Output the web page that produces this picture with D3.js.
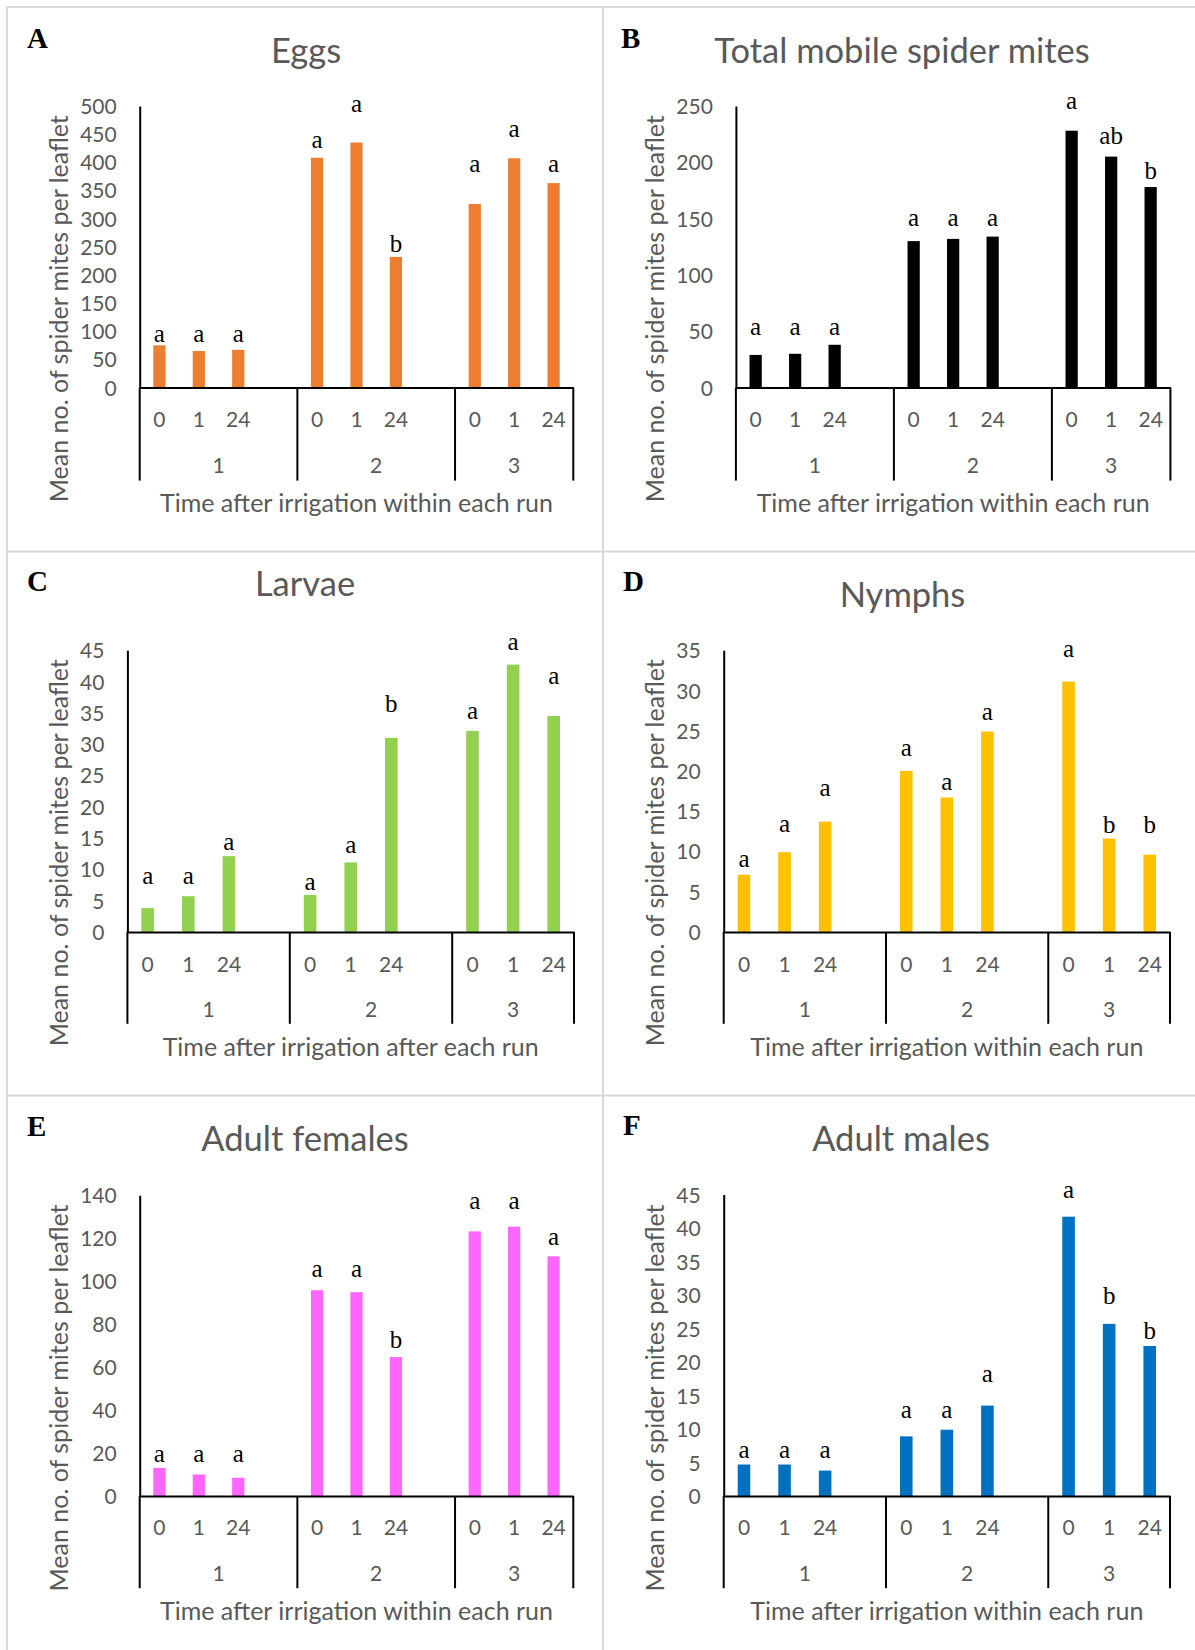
<!DOCTYPE html>
<html><head><meta charset="utf-8">
<script src="https://cdn.jsdelivr.net/npm/d3@7"></script>
<style>body{margin:0;background:#fff} svg{display:block}</style>
</head><body>
<svg id="chart" width="1195" height="1650"></svg>
<script>
// ---------- data ----------
const runs = ["1", "2", "3"];
const times = ["0", "1", "24"];
const panelLetters = ["A", "B", "C", "D", "E", "F"];
const chartTitles = ["Eggs", "Total mobile spider mites", "Larvae", "Nymphs", "Adult females", "Adult males"];
const xTitles = [
  "Time after irrigation within each run",
  "Time after irrigation within each run",
  "Time after irrigation after each run",
  "Time after irrigation within each run",
  "Time after irrigation within each run",
  "Time after irrigation within each run"
];
const yTitle = "Mean no. of spider mites per leaflet";
const yMax = [500, 250, 45, 35, 140, 45];
const yStep = [50, 50, 5, 5, 20, 5];

// values in order run1(0,1,24), run2(0,1,24), run3(0,1,24)
const eggs    = [75, 65, 67, 408, 435, 232, 326, 407, 363];
const mobile  = [29, 30, 38, 130, 132, 134, 228, 205, 178];
const larvae  = [3.8, 5.7, 12.1, 5.9, 11.1, 31.0, 32.1, 42.7, 34.5];
const nymphs  = [7.1, 9.9, 13.7, 20.0, 16.7, 24.9, 31.1, 11.6, 9.6];
const females = [13.1, 10.0, 8.5, 95.8, 94.9, 64.7, 123.2, 125.4, 111.6];
const males   = [4.7, 4.7, 3.8, 8.9, 9.9, 13.5, 41.7, 25.7, 22.4];

// significance letters and the value level at which each letter sits
const eggsSig    = ["a","a","a","a","a","b","a","a","a"];
const eggsSigAt  = [81, 81, 81, 426, 490, 240, 382, 445, 382];
const mobileSig  = ["a","a","a","a","a","a","a","ab","b"];
const mobileSigAt= [46.7, 46.7, 46.7, 143, 143, 143, 247.5, 216.4, 185.2];
const larvaeSig  = ["a","a","a","a","a","b","a","a","a"];
const larvaeSigAt= [7.6, 7.6, 13.1, 6.7, 12.6, 35.2, 34.0, 45.1, 39.6];
const nymphsSig  = ["a","a","a","a","a","a","a","b","b"];
const nymphsSigAt= [8.1, 12.4, 16.9, 21.9, 17.6, 26.3, 34.2, 12.3, 12.3];
const femalesSig = ["a","a","a","a","a","b","a","a","a"];
const femalesSigAt=[15.8, 15.8, 15.8, 101.8, 101.8, 69, 133.4, 133.4, 116.7];
const malesSig   = ["a","a","a","a","a","a","a","b","b"];
const malesSigAt = [5.7, 5.7, 5.7, 11.7, 11.7, 17, 44.5, 28.6, 23.5];

const colors = ["#ED7D31", "#000000", "#92D050", "#FFC000", "#FF66FF", "#0070C0"];

const seriesValues = [eggs, mobile, larvae, nymphs, females, males];
const seriesSig = [eggsSig, mobileSig, larvaeSig, nymphsSig, femalesSig, malesSig];
const seriesSigAt = [eggsSigAt, mobileSigAt, larvaeSigAt, nymphsSigAt, femalesSigAt, malesSigAt];

// ---------- layout ----------
const layout = [
  {left:139.7, right:573.3, top:105.9, zero:387.6, tickY:419.2, groupY:465.9, sepBottom:480.6, xTitleY:503.4, yTitleX:59.3, yTitleY:308.7, titleX:306, titleY:63, letterX:27, letterY:48},
  {left:735.9, right:1170.4, top:105.9, zero:387.6, tickY:419.2, groupY:465.9, sepBottom:480.6, xTitleY:503.4, yTitleX:655, yTitleY:308.7, titleX:902, titleY:63, letterX:621, letterY:48},
  {left:127.4, right:574, top:650.2, zero:931.9, tickY:964.2, groupY:1009.8, sepBottom:1023.8, xTitleY:1046.6, yTitleX:59.3, yTitleY:852.8, titleX:305, titleY:596, letterX:27, letterY:591},
  {left:723.7, right:1170, top:650.2, zero:931.9, tickY:964.2, groupY:1009.8, sepBottom:1023.8, xTitleY:1046.6, yTitleX:655, yTitleY:852.8, titleX:902.5, titleY:607.4, letterX:623, letterY:591},
  {left:139.7, right:573.3, top:1195.3, zero:1496, tickY:1527.4, groupY:1573.9, sepBottom:1588.2, xTitleY:1611.4, yTitleX:59.3, yTitleY:1398, titleX:305, titleY:1151.4, letterX:27, letterY:1136},
  {left:723.7, right:1170, top:1194.6, zero:1496, tickY:1527.4, groupY:1573.9, sepBottom:1588.2, xTitleY:1611.4, yTitleX:655, yTitleY:1398, titleX:901, titleY:1151.4, letterX:623, letterY:1135}
];

const SANS = "Lato, 'Open Sans', sans-serif";
const SERIF = "'Liberation Serif', 'Times New Roman', serif";
const GREY = "#595959";

const svg = d3.select("#chart");
svg.append("rect").attr("width", 1195).attr("height", 1650).attr("fill", "#fff");

// panel frame lines
const frame = [[7,7,1195,7],[7,551.5,1195,551.5],[7,1095.5,1195,1095.5],[7,7,7,1650],[603,7,603,1650]];
svg.append("g").selectAll("line").data(frame).join("line")
  .attr("x1", d => d[0]).attr("y1", d => d[1]).attr("x2", d => d[2]).attr("y2", d => d[3])
  .attr("stroke", "#d9d9d9").attr("stroke-width", 2);

// category slots: 3 times per run, with an empty slot between runs
const slots = [];
runs.forEach((r, i) => {
  times.forEach(t => slots.push(r + "|" + t));
  if (i < runs.length - 1) slots.push(r + "|gap");
});
const keyOf = j => runs[Math.floor(j / times.length)] + "|" + times[j % times.length];

seriesValues.forEach((values, i) => {
  const L = layout[i];
  const g = svg.append("g");
  const x = d3.scaleBand().domain(slots).range([L.left, L.right]).padding(0);
  const y = d3.scaleLinear().domain([0, yMax[i]]).range([L.zero, L.top]);
  const bw = x.bandwidth() * 0.31;

  // bars
  g.append("g").selectAll("rect").data(values).join("rect")
    .attr("x", (d, j) => x(keyOf(j)) + (x.bandwidth() - bw) / 2)
    .attr("y", d => y(d))
    .attr("width", bw)
    .attr("height", d => y(0) - y(d))
    .attr("fill", colors[i]);

  // y axis
  const yAxis = d3.axisLeft(y)
    .tickValues(d3.range(0, yMax[i] + yStep[i] / 2, yStep[i]))
    .tickSize(0).tickPadding(23);
  const ya = g.append("g").attr("transform", `translate(${L.left},0)`).call(yAxis);
  ya.select(".domain").attr("stroke", "#000").attr("stroke-width", 2);
  ya.selectAll("text").attr("font-family", SANS).attr("font-size", 21).attr("fill", GREY).attr("dy", "0.36em");

  // x axis (time labels)
  const xAxis = d3.axisBottom(x).tickSize(0)
    .tickFormat(d => d.endsWith("gap") ? "" : d.split("|")[1]);
  const xa = g.append("g").attr("transform", `translate(0,${L.zero})`).call(xAxis);
  xa.select(".domain").attr("stroke", "#000").attr("stroke-width", 2);
  xa.selectAll("text").attr("font-family", SANS).attr("font-size", 21).attr("fill", GREY)
    .attr("y", L.tickY - L.zero).attr("dy", "0.36em");

  // run separators and run labels
  const starts = runs.map(r => x(r + "|0"));
  const ends = starts.slice(1).concat([L.right]);
  const seps = starts.concat([L.right]);
  g.append("g").selectAll("line").data(seps).join("line")
    .attr("x1", d => d).attr("x2", d => d)
    .attr("y1", L.zero).attr("y2", L.sepBottom)
    .attr("stroke", "#000").attr("stroke-width", 2);
  g.append("g").selectAll("text").data(runs).join("text")
    .attr("x", (d, k) => (starts[k] + ends[k]) / 2)
    .attr("y", L.groupY).attr("dy", "0.36em")
    .attr("text-anchor", "middle")
    .attr("font-family", SANS).attr("font-size", 21).attr("fill", GREY)
    .text(d => d);

  // significance letters
  g.append("g").selectAll("text").data(seriesSig[i]).join("text")
    .attr("x", (d, j) => x(keyOf(j)) + x.bandwidth() / 2)
    .attr("y", (d, j) => y(seriesSigAt[i][j]))
    .attr("text-anchor", "middle")
    .attr("font-family", SERIF).attr("font-size", 25).attr("fill", "#000")
    .text(d => d);

  // chart title
  g.append("text").attr("x", L.titleX).attr("y", L.titleY)
    .attr("text-anchor", "middle").attr("font-family", SANS).attr("font-size", 34.5)
    .attr("fill", GREY).text(chartTitles[i]);

  // panel letter
  g.append("text").attr("x", L.letterX).attr("y", L.letterY)
    .attr("font-family", SERIF).attr("font-weight", "bold").attr("font-size", 29)
    .attr("fill", "#000").text(panelLetters[i]);

  // axis titles
  g.append("text")
    .attr("transform", `translate(${L.yTitleX},${L.yTitleY}) rotate(-90)`)
    .attr("text-anchor", "middle").attr("dy", "0.36em")
    .attr("font-family", SANS).attr("font-size", 25).attr("fill", GREY)
    .text(yTitle);
  g.append("text")
    .attr("x", (L.left + L.right) / 2).attr("y", L.xTitleY).attr("dy", "0.36em")
    .attr("text-anchor", "middle")
    .attr("font-family", SANS).attr("font-size", 25).attr("fill", GREY)
    .text(xTitles[i]);
});
</script>
</body></html>
